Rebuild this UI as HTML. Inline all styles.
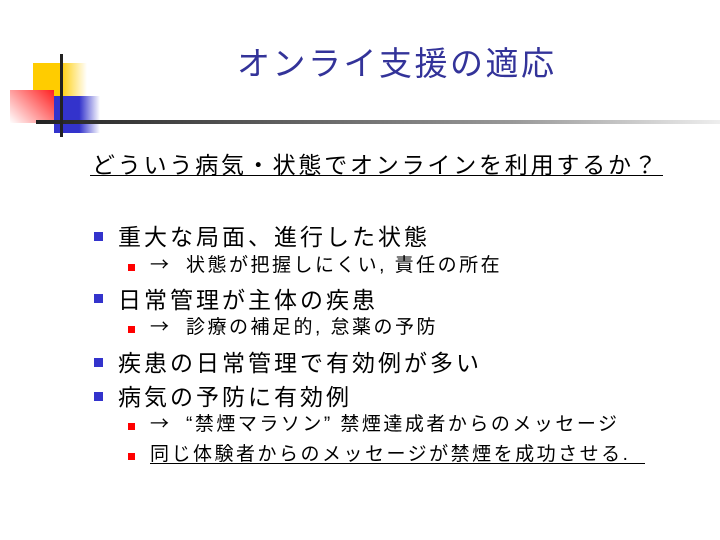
<!DOCTYPE html>
<html><head><meta charset="utf-8"><style>
body{margin:0;width:720px;height:540px;background:#fff;position:relative;overflow:hidden;font-family:"Liberation Sans","Noto Sans CJK JP",sans-serif;color:#000}
.a{position:absolute;white-space:nowrap}
.t{left:237px;top:37px;font-size:33px;letter-spacing:2.5px;color:#333399}
.l1{left:118px;font-size:23px;letter-spacing:3px}
.l2{left:150px;font-size:19px;letter-spacing:2.5px}
.ar{font-family:"Noto Sans CJK JP",sans-serif;display:inline-block;width:36px}
.b1{position:absolute;width:9px;height:9px;background:#3333cc}
.b2{position:absolute;width:7px;height:7px;background:#ff0000}
</style></head><body>
<div class="a" style="left:33px;top:63px;width:54px;height:33px;background:linear-gradient(90deg,#ffcc00 50%,#fff 100%)"></div>
<div class="a" style="left:10px;top:90px;width:44px;height:33px;background:linear-gradient(225deg,#ff2020,#fff)"></div>
<div class="a" style="left:54px;top:96px;width:46px;height:37px;background:linear-gradient(90deg,#3333cc 55%,#fff 100%)"></div>
<div class="a" style="left:36px;top:120px;width:684px;height:4px;background:linear-gradient(90deg,#222 0%,#555 30%,#999 70%,#eee 100%)"></div>
<div class="a" style="left:60px;top:54px;width:3px;height:83px;background:#222"></div>
<div class="a t">オンライ支援の適応</div>
<div class="a" style="left:92px;top:146px;font-size:23px;letter-spacing:2.8px">どういう病気・状態でオンラインを利用するか？</div>
<div class="a" style="left:90px;top:175px;width:573px;height:1px;background:#000"></div>
<div class="b1" style="left:94px;top:232px"></div><div class="a l1" style="top:218px">重大な局面、進行した状態</div>
<div class="b2" style="left:128px;top:264px"></div><div class="a l2" style="top:250px"><span class="ar">→</span>状態が把握しにくい, 責任の所在</div>
<div class="b1" style="left:94px;top:294px"></div><div class="a l1" style="top:281px">日常管理が主体の疾患</div>
<div class="b2" style="left:128px;top:326px"></div><div class="a l2" style="top:312px"><span class="ar">→</span>診療の補足的, 怠薬の予防</div>
<div class="b1" style="left:94px;top:358px"></div><div class="a l1" style="top:344px">疾患の日常管理で有効例が多い</div>
<div class="b1" style="left:94px;top:392px"></div><div class="a l1" style="top:378px">病気の予防に有効例</div>
<div class="b2" style="left:128px;top:423px"></div><div class="a l2" style="top:409px"><span class="ar">→</span>“禁煙マラソン” 禁煙達成者からのメッセージ</div>
<div class="b2" style="left:128px;top:453px"></div><div class="a l2" style="top:439px">同じ体験者からのメッセージが禁煙を成功させる.</div>
<div class="a" style="left:150px;top:463px;width:495px;height:1px;background:#000"></div>
</body></html>
